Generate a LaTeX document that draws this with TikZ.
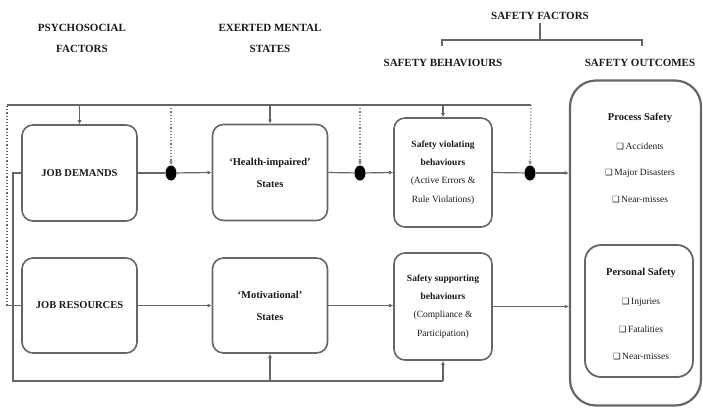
\documentclass[tikz,border=0pt]{standalone}
\usepackage{fontspec}
\setmainfont{Liberation Serif}
\newfontfamily\symfont{DejaVu Sans}
\usetikzlibrary{shapes.geometric,arrows.meta}
\newcommand{\chk}{{\symfont\fontsize{8.5}{8.5}\selectfont ❑}\,}
\begin{document}
\begin{tikzpicture}[x=1pt,y=-1pt,
  every node/.style={text=black!90},
  hdr/.style={font=\fontsize{11}{21}\selectfont\bfseries, align=center},
  box/.style={draw=black!60, line width=1.6pt, rounded corners=11pt, align=center, inner sep=2pt},
  bigtxt/.style={font=\fontsize{10.5}{22}\selectfont\bfseries},
  smalltxt/.style={font=\fontsize{9.5}{18.3}\selectfont},
  itm/.style={font=\fontsize{9.5}{11}\selectfont},
  ttl/.style={font=\fontsize{10.5}{12}\selectfont\bfseries},
  junc/.style={ellipse, fill=black, minimum width=11pt, minimum height=15pt, inner sep=0pt},
  link/.style={draw=black!60, line width=1.2pt},
  flow/.style={link, -{Latex[length=4pt,width=4pt]}},
  modl/.style={draw=black!50, line width=1.2pt, dotted, -{Latex[length=4pt,width=4pt]}},
]
\useasboundingbox (0,0) rectangle (703,408);

% column headings
\node[hdr] (hpsy) at (82,38.5) {PSYCHOSOCIAL\\FACTORS};
\node[hdr] (hmen) at (270,38.5) {EXERTED MENTAL\\STATES};
\node[hdr] (hsf) at (540,16) {SAFETY FACTORS};
\node[hdr] (hsb) at (443,63) {SAFETY BEHAVIOURS};
\node[hdr] (hso) at (640,63) {SAFETY OUTCOMES};

% bracket grouping the two safety headings
\coordinate (brl) at (442,46);
\coordinate (brr) at (642,46);
\coordinate (brm) at (540,40);
\draw[link] (brl) -- (brl |- brm) -- (brr |- brm) -- (brr);
\draw[link] (brm) -- (hsf.south);

% factor and state boxes
\node[box, bigtxt, minimum width=115pt, minimum height=96pt] (jd) at (79.5,173) {JOB DEMANDS};
\node[box, bigtxt, minimum width=115pt, minimum height=96pt] (hi) at (270,172.5) {‘Health-impaired’\\States};
\node[box, bigtxt, minimum width=115pt, minimum height=95pt] (jr) at (79.5,305.5) {JOB RESOURCES};
\node[box, bigtxt, minimum width=115pt, minimum height=95pt] (mo) at (270,305.5) {‘Motivational’\\States};

% behaviour boxes
\node[box, smalltxt, minimum width=98pt, minimum height=109pt] (sv) at (443,172.5)
  {\textbf{Safety violating}\\\textbf{behaviours}\\(Active Errors \&\\Rule Violations)};
\node[box, smalltxt, minimum width=98pt, minimum height=107pt] (ss) at (443,306.5)
  {\textbf{Safety supporting}\\\textbf{behaviours}\\(Compliance \&\\Participation)};

% outcomes
\node[box, rounded corners=26pt, line width=2.2pt, minimum width=131pt, minimum height=325pt] (out) at (635.5,243) {};
\node[ttl] (ps) at (640,118) {Process Safety};
\node[itm] (ps1) at (640,146) {\chk Accidents};
\node[itm] (ps2) at (640,173) {\chk Major Disasters};
\node[itm] (ps3) at (640,200) {\chk Near-misses};

\node[box, line width=1.8pt, rounded corners=16pt, minimum width=108pt, minimum height=132pt] (pb) at (639,311) {};
\node[ttl] (pe) at (641,273) {Personal Safety};
\node[itm] (pe1) at (641,302) {\chk Injuries};
\node[itm] (pe2) at (641,329) {\chk Fatalities};
\node[itm] (pe3) at (641,357) {\chk Near-misses};

% junction points
\node[junc] (d1) at (171,173) {};
\node[junc] (d2) at (360,173) {};
\node[junc] (d3) at (530,173) {};

% main paths
\draw[link] (jd.east) -- (d1);
\draw[flow] (d1) -- (hi.west);
\draw[link] (hi.east) -- (d2);
\draw[flow] (d2) -- (sv.west);
\draw[link] (sv.east) -- (d3);
\draw[flow] (d3) -- (d3 -| out.west);
\draw[flow] (jr.east) -- (mo.west);
\draw[flow] (mo.east) -- (mo.east -| ss.west);
\draw[flow] (ss.east) -- (ss.east -| out.west);

% resources feed back over the top
\coordinate (tl) at (7,105);
\coordinate (tr) at (531,105);
\draw[link] (jr.west) -- (jr.west -| tl);
\draw[link, dotted] (jr.west -| tl) -- (tl);
\draw[link] (tl) -- (tr);
\draw[flow] (jd.north |- tl) -- (jd.north);
\draw[modl] (d1 |- tl) -- (d1.north);
\draw[flow] (hi.north |- tl) -- (hi.north);
\draw[modl] (d2 |- tl) -- (d2.north);
\draw[flow] (sv.north |- tl) -- (sv.north);
\draw[modl] (tr) -- (d3.north);

% demands run along the bottom
\coordinate (bl) at (13,381);
\draw[link] (jd.west) -- (jd.west -| bl) -- (bl) -- (ss.south |- bl);
\draw[flow] (mo.south |- bl) -- (mo.south);
\draw[flow] (ss.south |- bl) -- (ss.south);
\end{tikzpicture}
\end{document}
